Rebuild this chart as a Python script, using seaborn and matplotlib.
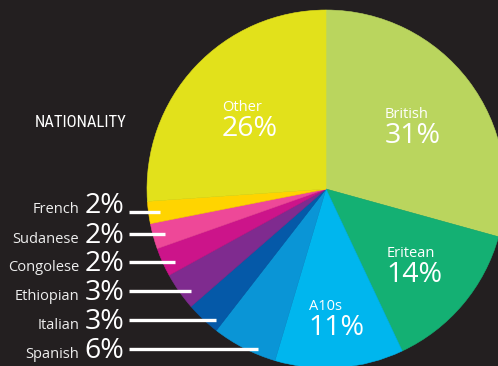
import matplotlib
matplotlib.use("Agg")
import numpy as np
import matplotlib.pyplot as plt
import seaborn as sns
from matplotlib import font_manager

# ---------------- data ----------------
nationalities = ["British", "Eritean", "A10s", "Spanish", "Italian",
                 "Ethiopian", "Congolese", "Sudanese", "French", "Other"]
# wedge sizes as drawn in the picture (%)
shares = [29.3, 13.7, 11.6, 5.9, 3.1, 3.4, 2.6, 2.3, 2.0, 26.1]
# percentages as printed
pct_labels = ["31%", "14%", "11%", "6%", "3%", "3%", "2%", "2%", "2%", "26%"]
title = "NATIONALITY"

palette = sns.color_palette(["#bad55e", "#14b073", "#00b6ee", "#0a95d6",
                             "#0559a8", "#7f2b8f", "#cc148a", "#ee4898",
                             "#ffd400", "#e2e11b"])
BG = "#231f20"

# ---------------- style ----------------
sns.set_theme(style="dark", rc={"figure.facecolor": BG, "axes.facecolor": BG})
plt.rcParams["font.family"] = ["Open Sans", "DejaVu Sans"]

names = {f.name for f in font_manager.fontManager.ttflist}
narrow = None
for cand in ["Liberation Sans Narrow", "DejaVu Sans Condensed", "Roboto Condensed"]:
    if cand in names:
        narrow = cand
        break
if narrow is None:
    narrow = "Roboto"
    title_size = 10.0
else:
    title_size = 12.0

W, H = 498, 366
fig = plt.figure(figsize=(W / 100, H / 100), dpi=100)
ax = fig.add_axes([0, 0, 1, 1])
ax.set_facecolor(BG)

cx, cy, R = 326, H - 189, 179
wedges, _ = ax.pie(shares, colors=palette, startangle=90, counterclock=False,
                   center=(cx, cy), radius=R,
                   wedgeprops=dict(linewidth=0.4))
for w in wedges:
    w.set_edgecolor(w.get_facecolor())

ax.set_xlim(0, W)
ax.set_ylim(0, H)
ax.set_aspect("equal")
ax.axis("off")

# ---------------- labels inside the big wedges ----------------
inner_r = {"British": 0.60, "Eritean": 0.64, "A10s": 0.71, "Other": 0.59}
for w, name, pct in zip(wedges, nationalities, pct_labels):
    if name not in inner_r:
        continue
    mid = np.deg2rad((w.theta1 + w.theta2) / 2)
    px = cx + inner_r[name] * R * np.cos(mid)
    py = cy + inner_r[name] * R * np.sin(mid)
    left = px - 27
    ax.text(left, py + 6, name, color="white", fontsize=10.5,
            ha="left", va="baseline")
    ax.text(left, py - 19, pct, color="white", fontsize=20.5,
            ha="left", va="baseline")

# ---------------- left-hand callouts for small wedges ----------------
small = ["French", "Sudanese", "Congolese", "Ethiopian", "Italian", "Spanish"]
baselines = [213, 243, 271, 300, 329, 358]
line_ys = [212, 234, 262, 291, 320, 349]
for name, base, ly in zip(small, baselines, line_ys):
    i = nationalities.index(name)
    yb = H - base
    ax.text(79, yb, name, color="#eeeeee", fontsize=10.5, ha="right", va="baseline")
    ax.text(124, yb, pct_labels[i], color="white", fontsize=20.5,
            ha="right", va="baseline")
    yl = H - ly
    edge_x = cx - np.sqrt(max(R ** 2 - (yl - cy) ** 2, 0))
    ax.plot([129, edge_x + 12], [yl, yl], color="white", lw=2.4,
            solid_capstyle="butt")

ax.text(35, H - 127, title, color="white", fontsize=title_size,
        family=[narrow, "DejaVu Sans"], ha="left", va="baseline")

fig.savefig("out.png", dpi=100, facecolor=BG)
